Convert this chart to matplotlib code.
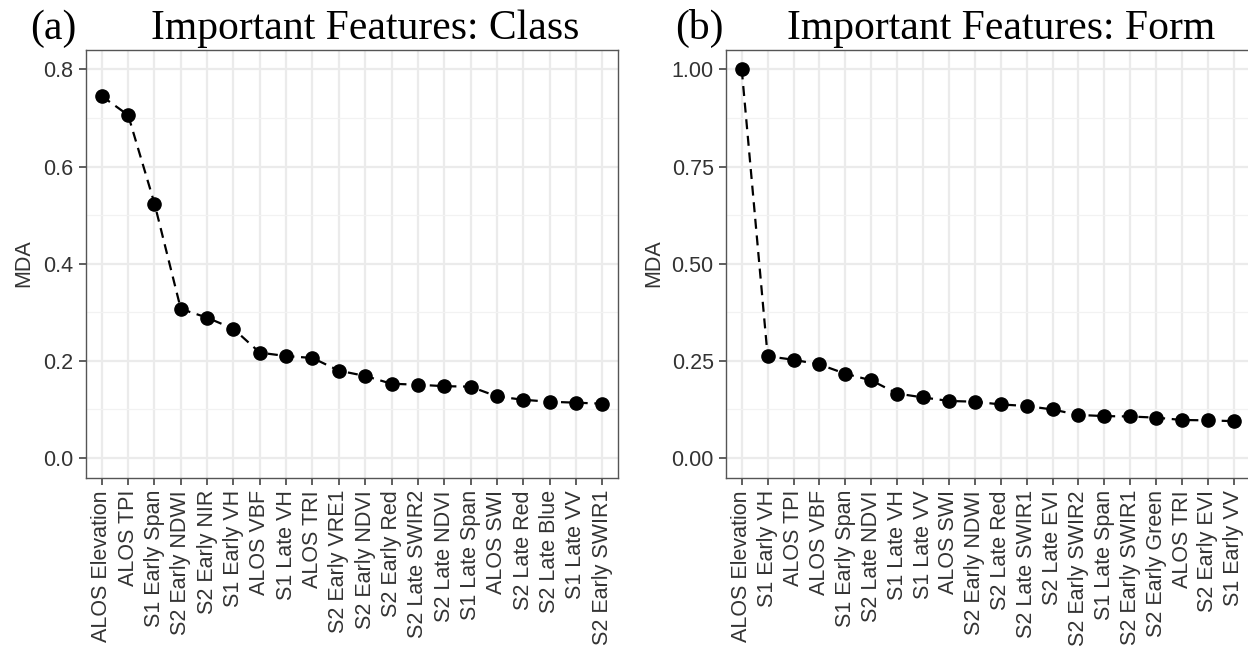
#!/usr/bin/env python3
"""Two-panel MDA feature importance plots (Class / Form), ggplot theme_bw look."""

import matplotlib

matplotlib.use("Agg")

import matplotlib.pyplot as plt
from matplotlib.ticker import AutoMinorLocator, MultipleLocator

CLASS_FEATURES = [
    "ALOS Elevation", "ALOS TPI", "S1 Early Span", "S2 Early NDWI", "S2 Early NIR",
    "S1 Early VH", "ALOS VBF", "S1 Late VH", "ALOS TRI", "S2 Early VRE1",
    "S2 Early NDVI", "S2 Early Red", "S2 Late SWIR2", "S2 Late NDVI", "S1 Late Span",
    "ALOS SWI", "S2 Late Red", "S2 Late Blue", "S1 Late VV", "S2 Early SWIR1",
]
CLASS_MDA = [
    0.745, 0.706, 0.524, 0.307, 0.289, 0.266, 0.217, 0.210, 0.206, 0.180,
    0.169, 0.153, 0.151, 0.148, 0.147, 0.127, 0.120, 0.116, 0.114, 0.112,
]

FORM_FEATURES = [
    "ALOS Elevation", "S1 Early VH", "ALOS TPI", "ALOS VBF", "S1 Early Span",
    "S2 Late NDVI", "S1 Late VH", "S1 Late VV", "ALOS SWI", "S2 Early NDWI",
    "S2 Late Red", "S2 Late SWIR1", "S2 Late EVI", "S2 Early SWIR2", "S1 Late Span",
    "S2 Early SWIR1", "S2 Early Green", "ALOS TRI", "S2 Early EVI", "S1 Early VV",
]
FORM_MDA = [
    1.000, 0.262, 0.253, 0.241, 0.217, 0.200, 0.166, 0.156, 0.147, 0.145,
    0.138, 0.134, 0.125, 0.111, 0.108, 0.107, 0.104, 0.098, 0.097, 0.095,
]

W_PX, H_PX = 1248, 652
SANS = ["Liberation Sans", "DejaVu Sans"]
SERIF = ["Liberation Serif", "DejaVu Serif"]
DARK = "#333333"


def _rect(left, right, top, bottom):
    """Pixel box -> figure fraction rect."""
    return [left / W_PX, 1 - bottom / H_PX, (right - left) / W_PX, (bottom - top) / H_PX]


def _panel(fig, rect, features, values, ylim, step, fmt):
    ax = fig.add_axes(rect)
    x = list(range(len(features)))
    ax.plot(x, values, color="black", linewidth=1.6, linestyle=(0, (4.5, 3.0)),
            marker="o", markersize=9.5, zorder=3, clip_on=False)
    ax.set_xlim(-0.6, len(features) - 1 + 0.6)
    ax.set_ylim(*ylim)
    ax.set_xticks(x)
    ax.set_xticklabels(features, rotation=90, ha="center", va="top",
                       family=SANS, fontsize=15.5, color=DARK)
    ax.yaxis.set_major_locator(MultipleLocator(step))
    ax.yaxis.set_minor_locator(AutoMinorLocator(2))
    ax.set_yticklabels([fmt.format(v) for v in ax.get_yticks()],
                       family=SANS, fontsize=15.5, color=DARK)
    ax.grid(True, which="major", color="#EBEBEB", linewidth=1.6, zorder=0)
    ax.grid(True, which="minor", axis="y", color="#F2F2F2", linewidth=0.9, zorder=0)
    ax.set_axisbelow(True)
    ax.tick_params(which="major", length=5, width=1.1, color=DARK, pad=4)
    ax.tick_params(which="minor", length=0)
    for sp in ax.spines.values():
        sp.set_color("#555555")
        sp.set_linewidth(1.0)
    return ax


def main():
    fig = plt.figure(figsize=(W_PX / 100, H_PX / 100), dpi=100)

    _panel(fig, _rect(86, 618, 50, 477.5), CLASS_FEATURES, CLASS_MDA,
           (-0.04, 0.84), 0.2, "{:.1f}")
    _panel(fig, _rect(726.2, 1249.4, 50, 477.5), FORM_FEATURES, FORM_MDA,
           (-0.05, 1.05), 0.25, "{:.2f}")

    # panel tags and titles sit on one baseline above the frames
    base = 1 - 39 / H_PX
    fig.text(30 / W_PX, base, "(a)", family=SERIF, fontsize=30, va="baseline", ha="left")
    fig.text(151 / W_PX, base, "Important Features: Class", family=SERIF, fontsize=30,
             va="baseline", ha="left")
    fig.text(675 / W_PX, base, "(b)", family=SERIF, fontsize=30, va="baseline", ha="left")
    fig.text(787 / W_PX, base, "Important Features: Form", family=SERIF, fontsize=30,
             va="baseline", ha="left")

    for xc in (24, 654):
        fig.text(xc / W_PX, 1 - 263.5 / H_PX, "MDA", family=SANS, fontsize=15.5,
                 rotation=90, ha="center", va="center", color=DARK)

    fig.savefig("out.png", dpi=100)
    plt.close(fig)


if __name__ == "__main__":
    main()
